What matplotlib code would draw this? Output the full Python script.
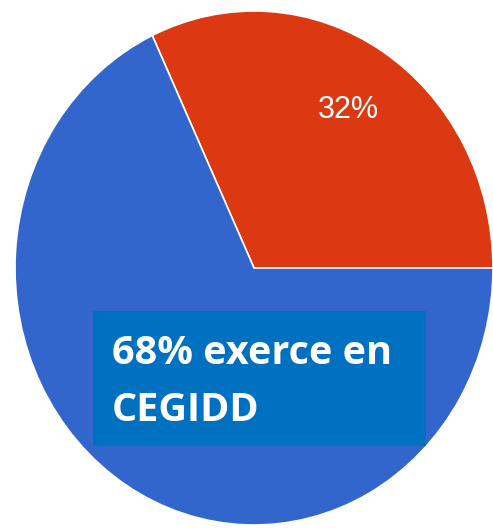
import matplotlib.pyplot as plt
from matplotlib.patches import Rectangle

shares = [32, 68]
colors = ["#DC3912", "#3366CC"]
inner_labels = ["32%", ""]
callout = ["68% exerce en", "CEGIDD"]

fig = plt.figure(figsize=(4.93, 5.28), dpi=100)
ax = fig.add_axes([0, 0, 1, 1])
ax.set_axis_off()

wedges, texts = ax.pie(shares, colors=colors, startangle=0, counterclock=True,
                       radius=1, center=(0, 0),
                       wedgeprops=dict(edgecolor="white", linewidth=1.2))
ax.set_aspect("auto")
# centre at (254, 268) px, radii 239 x 257 px
cx, cy, rx, ry = 254, 268, 239, 257
ax.set_xlim(-cx / rx, (493 - cx) / rx)
ax.set_ylim(-(528 - cy) / ry, cy / ry)

ax.text((348 - cx) / rx, (cy - 110) / ry, inner_labels[0], color="white",
        fontsize=22, family="Liberation Sans", ha="center", va="center")

fig.patches.append(Rectangle((93 / 493, 1 - 446 / 528), 333 / 493, 135 / 528,
                             transform=fig.transFigure, facecolor="#0070C0",
                             edgecolor="none", zorder=3))
fig.text(112 / 493, 1 - 364 / 528, callout[0], color="white", fontsize=28.5,
         fontweight="bold", family="Open Sans", va="baseline", zorder=4)
fig.text(112 / 493, 1 - 421 / 528, callout[1], color="white", fontsize=28.5,
         fontweight="bold", family="Open Sans", va="baseline", zorder=4)

fig.savefig("out.png", dpi=100)
